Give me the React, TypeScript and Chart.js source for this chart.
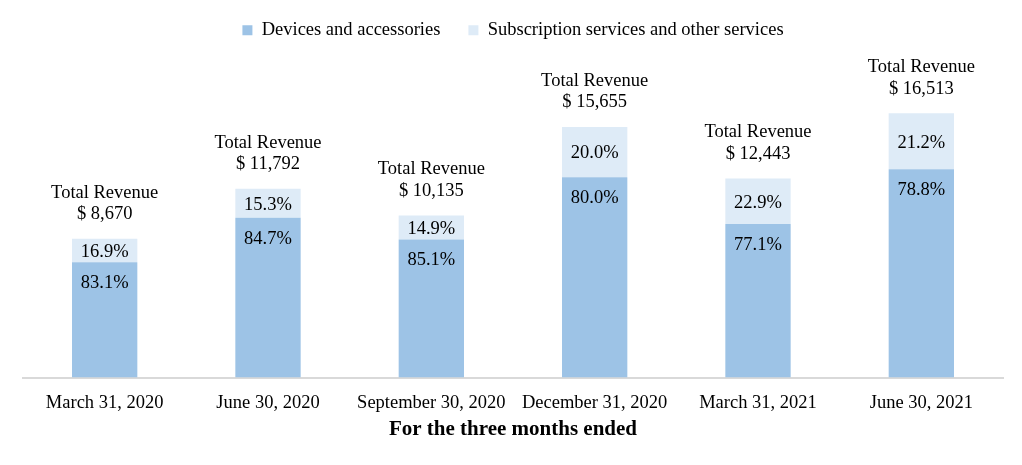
import React, { useEffect, useRef } from "react";
import { Chart, registerables } from "chart.js";

Chart.register(...registerables);

const categories = [
  "March 31, 2020",
  "June 30, 2020",
  "September 30, 2020",
  "December 31, 2020",
  "March 31, 2021",
  "June 30, 2021",
];
const totalRevenue = [8670, 11792, 10135, 15655, 12443, 16513];
const devicesPct = [83.1, 84.7, 85.1, 80.0, 77.1, 78.8];
const subscriptionPct = [16.9, 15.3, 14.9, 20.0, 22.9, 21.2];
const totalLabels = ["$ 8,670", "$ 11,792", "$ 10,135", "$ 15,655", "$ 12,443", "$ 16,513"];

const FONT = "'Liberation Serif', 'Times New Roman', serif";

const devicesValues = totalRevenue.map((t, i) => (t * devicesPct[i]) / 100);
const subscriptionValues = totalRevenue.map((t, i) => (t * subscriptionPct[i]) / 100);

const labelPlugin = {
  id: "barLabels",
  afterDatasetsDraw(chart: any) {
    const ctx = chart.ctx;
    const m0 = chart.getDatasetMeta(0);
    const m1 = chart.getDatasetMeta(1);
    ctx.save();
    ctx.fillStyle = "#000";
    ctx.textAlign = "center";
    ctx.textBaseline = "middle";
    ctx.font = `18.5px ${FONT}`;
    m0.data.forEach((bar: any, i: number) => {
      ctx.fillText(devicesPct[i].toFixed(1) + "%", bar.x, bar.y + 21);
    });
    m1.data.forEach((bar: any, i: number) => {
      const mid = (bar.y + bar.base) / 2;
      ctx.fillText(subscriptionPct[i].toFixed(1) + "%", bar.x, mid + 1.5);
      ctx.fillText(totalLabels[i], bar.x, bar.y - 24.5);
      ctx.fillText("Total Revenue", bar.x, bar.y - 46);
    });
    ctx.restore();
  },
};

export default function App() {
  const ref = useRef<HTMLCanvasElement>(null);
  useEffect(() => {
    document.body.style.margin = "0";
    const chart = new Chart(ref.current!, {
      type: "bar",
      data: {
        labels: categories,
        datasets: [
          {
            label: "Devices and accessories",
            data: devicesValues,
            backgroundColor: "#9DC3E6",
            categoryPercentage: 1,
            barPercentage: 0.4,
          },
          {
            label: "Subscription services and other services",
            data: subscriptionValues,
            backgroundColor: "#DEEBF7",
            categoryPercentage: 1,
            barPercentage: 0.4,
          },
        ],
      },
      options: {
        animation: false,
        responsive: false,
        maintainAspectRatio: false,
        layout: { padding: { top: -7, left: 23, right: 19, bottom: 23 } },
        plugins: {
          legend: {
            position: "top",
            labels: {
              boxWidth: 10,
              boxHeight: 10,
              padding: 28,
              color: "#000",
              font: { family: FONT, size: 18.5 },
            },
          },
          tooltip: { enabled: false },
        },
        scales: {
          x: {
            stacked: true,
            grid: { display: false },
            border: { display: true, color: "#D9D9D9", width: 2 },
            ticks: {
              color: "#000",
              padding: 6,
              maxRotation: 0,
              autoSkip: false,
              font: { family: FONT, size: 18.5 },
            },
            title: {
              display: true,
              text: "For the three months ended",
              color: "#000",
              font: { family: FONT, size: 21, weight: "bold" },
              padding: { top: -3, bottom: 0 },
            },
          },
          y: {
            stacked: true,
            display: false,
            min: 0,
            max: 20500,
          },
        },
      },
      plugins: [labelPlugin],
    });
    return () => chart.destroy();
  }, []);
  return (
    <div style={{ width: 1022, height: 465 }}>
      <canvas ref={ref} width={1022} height={465} style={{ width: 1022, height: 465 }} />
    </div>
  );
}
